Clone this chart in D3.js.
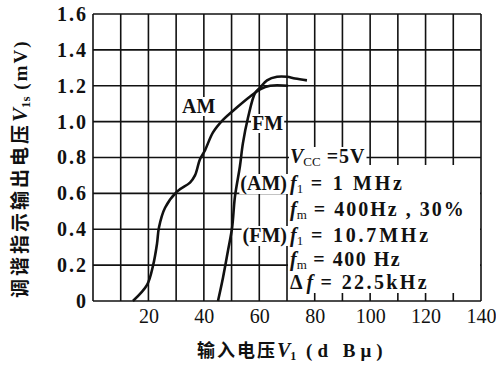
<!DOCTYPE html>
<html>
<head>
<meta charset="utf-8">
<script src="https://cdn.jsdelivr.net/npm/d3@7"></script>
<style>
  body { margin: 0; background: #fff; }
  text { fill: #111; }
</style>
</head>
<body>
<script>
// AM curve, input dBu vs output mV
var amX = [14.4, 19.5, 21.7, 23.1, 23.8, 26, 30.3, 35, 36.8, 38.6, 40.4, 43.3, 46.9, 52, 56.7, 60.3, 63.9, 70.4]
var amY = [0, 0.09, 0.20, 0.32, 0.41, 0.52, 0.61, 0.66, 0.70, 0.79, 0.84, 0.94, 1.01, 1.08, 1.14, 1.18, 1.20, 1.20]

// FM curve
var fmX = [45.1, 46.9, 48.7, 50.2, 51.2, 53, 54.1, 55.9, 58.5, 60.3, 62.8, 66.4, 70, 72.9, 77.2]
var fmY = [0, 0.13, 0.28, 0.41, 0.58, 0.75, 0.88, 1.02, 1.16, 1.19, 1.23, 1.25, 1.25, 1.24, 1.23]

var xTickLabels = [20, 40, 60, 80, 100, 120, 140]
var yTickLabels = [0, 0.2, 0.4, 0.6, 0.8, 1.0, 1.2, 1.4, 1.6]

var w = 496
var h = 376
var margin = {top: 14, right: 15, bottom: 75, left: 93}
var width = w - margin.left - margin.right
var height = h - margin.top - margin.bottom

var serif = '"Liberation Serif", "Times New Roman", serif'
var cjk = '"Noto Sans CJK SC", sans-serif'

var svg = d3.select('body')
  .append('svg')
  .attr('width', w)
  .attr('height', h)

var chart = svg.append('g')
  .attr('transform', 'translate(' + margin.left + ',' + margin.top + ')')

var x = d3.scaleLinear().domain([0, 140]).range([0, width])
var y = d3.scaleLinear().domain([0, 1.6]).range([height, 0])

// GRID
var gridX = d3.range(0, 141, 10)
var gridY = d3.range(0, 9).map(function (i) { return i * 0.2 })

chart.selectAll('.vgrid')
  .data(gridX)
  .enter()
    .append('line')
    .attr('x1', function (d) { return x(d) })
    .attr('x2', function (d) { return x(d) })
    .attr('y1', 0)
    .attr('y2', height)
    .attr('stroke', '#111')
    .attr('stroke-width', 1.6)

chart.selectAll('.hgrid')
  .data(gridY)
  .enter()
    .append('line')
    .attr('x1', 0)
    .attr('x2', width)
    .attr('y1', function (d) { return y(d) })
    .attr('y2', function (d) { return y(d) })
    .attr('stroke', '#111')
    .attr('stroke-width', 1.6)

// AXES (labels only)
var xAxis = chart.append('g')
  .attr('transform', 'translate(0,' + height + ')')
  .call(d3.axisBottom(x).tickValues(xTickLabels).tickSize(0).tickPadding(8).tickFormat(d3.format('d')))
xAxis.select('.domain').remove()
xAxis.selectAll('text')
  .style('font-family', serif)
  .style('font-size', '20px')
  .style('fill', '#111')

var yAxis = chart.append('g')
  .call(d3.axisLeft(y).tickValues(yTickLabels).tickSize(0).tickPadding(5)
    .tickFormat(function (d) { return d === 0 ? '0' : d3.format('.1f')(d) }))
yAxis.select('.domain').remove()
yAxis.selectAll('text')
  .style('font-family', serif)
  .style('font-size', '20px')
  .style('font-weight', 'bold')
  .style('letter-spacing', '2px')
  .style('fill', '#111')

// ANNOTATION BOX (white, grid hidden inside)
chart.append('rect')
  .attr('x', x(70) + 1)
  .attr('y', 151)
  .attr('width', x(140) - x(70) - 2)
  .attr('height', 128)
  .attr('fill', '#fff')

function addLabel (g, px, py, anchor, parts, bg) {
  var t = g.append('text')
    .attr('x', px)
    .attr('y', py)
    .attr('text-anchor', anchor)
    .style('font-family', serif)
    .style('font-size', '20px')
    .style('font-weight', 'bold')
  parts.forEach(function (p) {
    var s = t.append('tspan').text(p.t)
    if (p.it) s.style('font-style', 'italic')
    if (p.sub) s.attr('baseline-shift', '-25%').style('font-size', '13px').style('font-weight', 'normal')
    if (p.sp) s.style('letter-spacing', p.sp)
  })
  if (bg) {
    var b = t.node().getBBox()
    g.insert('rect', function () { return t.node() })
      .attr('x', b.x - 1)
      .attr('y', b.y + 2)
      .attr('width', b.width + 2)
      .attr('height', b.height - 3)
      .attr('fill', '#fff')
  }
  return t
}

var notes = chart.append('g')
var nx = x(70) + 3
addLabel(notes, nx, 149, 'start', [{t: 'V', it: true}, {t: 'CC', sub: true}, {t: ' =5V', sp: '1px'}], true)
addLabel(notes, x(70), 176, 'end', [{t: '(AM)'}], true)
addLabel(notes, nx, 176, 'start', [{t: 'f', it: true}, {t: '1', sub: true}, {t: '  =  1 MHz', sp: '2.7px'}], false)
addLabel(notes, nx, 202, 'start', [{t: 'f', it: true}, {t: 'm', sub: true}, {t: ' = 400Hz , 30%', sp: '2px'}], false)
addLabel(notes, x(70), 228, 'end', [{t: '(FM)'}], true)
addLabel(notes, nx, 228, 'start', [{t: 'f', it: true}, {t: '1', sub: true}, {t: '  = 10.7MHz', sp: '2.8px'}], false)
addLabel(notes, nx, 252, 'start', [{t: 'f', it: true}, {t: 'm', sub: true}, {t: ' = 400 Hz', sp: '1.5px'}], false)
addLabel(notes, nx, 275, 'start', [{t: 'Δ '}, {t: 'f', it: true}, {t: ' = 22.5kHz', sp: '2.4px'}], false)

// curve labels
addLabel(chart, 89, 99, 'start', [{t: 'AM'}], true)
addLabel(chart, 159, 116, 'start', [{t: 'FM'}], true)

// CURVES
var line = d3.line()
  .x(function (d) { return x(d[0]) })
  .y(function (d) { return y(d[1]) })
  .curve(d3.curveCatmullRom.alpha(0.5))

chart.append('path')
  .datum(d3.zip(amX, amY))
  .attr('d', line)
  .attr('fill', 'none')
  .attr('stroke', '#111')
  .attr('stroke-width', 2.6)

chart.append('path')
  .datum(d3.zip(fmX, fmY))
  .attr('d', line)
  .attr('fill', 'none')
  .attr('stroke', '#111')
  .attr('stroke-width', 2.6)

// AXIS TITLES
var xt = svg.append('text')
  .attr('x', 197)
  .attr('y', 357)
  .style('font-family', cjk)
  .style('font-size', '18px')
  .style('font-weight', 'bold')
xt.append('tspan').text('输入电压').style('letter-spacing', '2px')
xt.append('tspan').text('V').style('font-family', serif).style('font-style', 'italic').style('font-size', '20px')
xt.append('tspan').text('1').attr('baseline-shift', '-25%').style('font-family', serif).style('font-size', '12px')
xt.append('tspan').text(' (d Bμ)').style('font-family', serif).style('font-size', '19px').style('letter-spacing', '5px')

var yt = svg.append('text')
  .attr('transform', 'translate(27,298) rotate(-90)')
  .style('font-family', cjk)
  .style('font-size', '19px')
  .style('font-weight', 'bold')
yt.append('tspan').text('调谐指示输出电压').style('letter-spacing', '3px')
yt.append('tspan').text('V').style('font-family', serif).style('font-style', 'italic').style('font-size', '21px')
yt.append('tspan').text('1s').attr('baseline-shift', '-25%').style('font-family', serif).style('font-size', '13px')
yt.append('tspan').text(' (mV)').style('font-family', serif).style('font-size', '19px').style('letter-spacing', '2px')
</script>
</body>
</html>
